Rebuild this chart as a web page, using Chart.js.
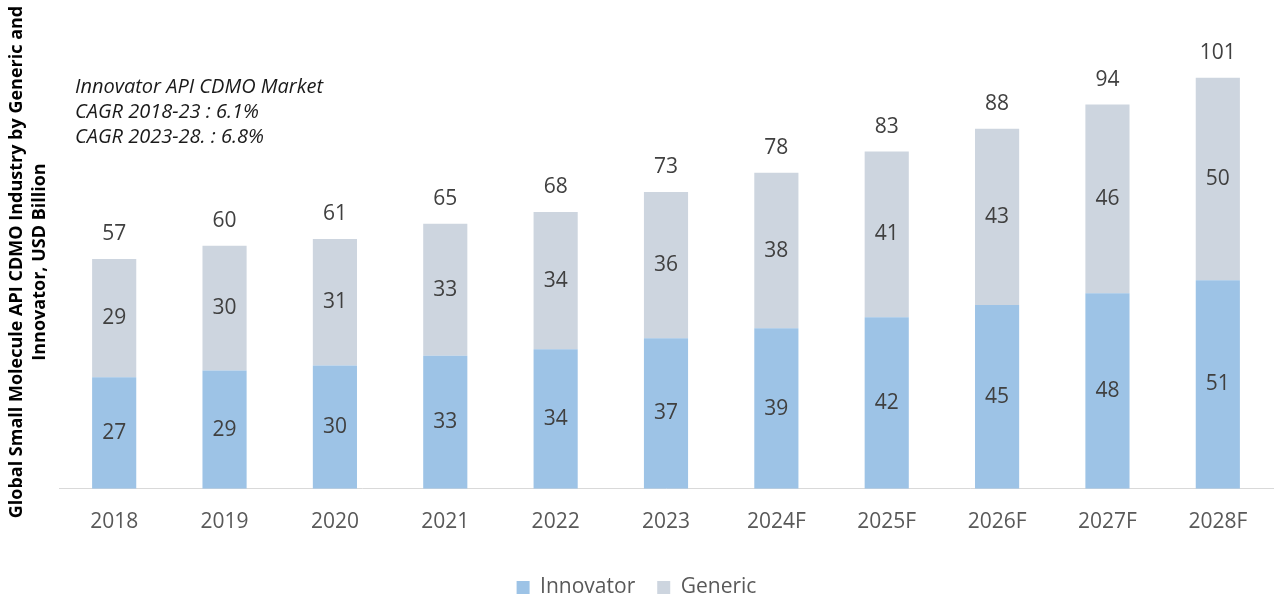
<!DOCTYPE html>
<html>
<head>
<meta charset="utf-8">
<script src="https://cdn.jsdelivr.net/npm/chart.js@4"></script>
<style>
html,body{margin:0;padding:0;background:#fff;}
#wrap{width:1282px;height:596px;position:relative;}
</style>
</head>
<body>
<div id="wrap"><canvas id="c" width="1282" height="596"></canvas></div>
<script>
const categories = ["2018","2019","2020","2021","2022","2023","2024F","2025F","2026F","2027F","2028F"];
const innovator = [27.3, 29.0, 30.2, 32.6, 34.2, 36.9, 39.3, 42.0, 45.0, 47.9, 51.1];
const generic   = [29.0, 30.5, 31.0, 32.3, 33.6, 35.8, 38.1, 40.6, 43.2, 46.2, 49.6];
const innovatorLabels = ["27","29","30","33","34","37","39","42","45","48","51"];
const genericLabels   = ["29","30","31","33","34","36","38","41","43","46","50"];
const totalLabels     = ["57","60","61","65","68","73","78","83","88","94","101"];
const yTitleLines = ["Global Small Molecule API CDMO Industry by Generic and", "Innovator, USD Billion"];
const noteLines = ["Innovator API CDMO Market", "CAGR 2018-23 : 6.1%", "CAGR 2023-28. : 6.8%"];

const FONT = "'Open Sans', sans-serif";

const labelPlugin = {
  id: 'labels',
  afterDatasetsDraw(chart) {
    const ctx = chart.ctx;
    ctx.save();
    ctx.font = "21px " + FONT;
    ctx.fillStyle = "#404040";
    ctx.textAlign = "center";
    ctx.textBaseline = "middle";
    const segLabels = [innovatorLabels, genericLabels];
    chart.data.datasets.forEach((ds, di) => {
      const meta = chart.getDatasetMeta(di);
      meta.data.forEach((bar, i) => {
        const y = (bar.y + bar.base) / 2;
        ctx.fillText(segLabels[di][i], bar.x, y);
      });
    });
    const top = chart.getDatasetMeta(1);
    top.data.forEach((bar, i) => {
      ctx.fillText(totalLabels[i], bar.x, bar.y - 25);
    });
    // axis title
    ctx.fillStyle = "#000";
    ctx.font = "bold 18px " + FONT;
    const cy = 262;
    [17, 40].forEach((x, k) => {
      ctx.save();
      ctx.translate(x, cy);
      ctx.rotate(-Math.PI / 2);
      ctx.fillText(yTitleLines[k], 0, 0);
      ctx.restore();
    });
    // note
    ctx.font = "italic 20px " + FONT;
    ctx.textAlign = "left";
    ctx.fillStyle = "#1a1a1a";
    noteLines.forEach((t, k) => ctx.fillText(t, 75, 87 + k * 25));
    ctx.restore();
  }
};

new Chart(document.getElementById('c'), {
  type: 'bar',
  data: {
    labels: categories,
    datasets: [
      { label: 'Innovator', data: innovator, backgroundColor: '#9DC3E6', barPercentage: 0.4, categoryPercentage: 1.0 },
      { label: 'Generic', data: generic, backgroundColor: '#CDD5DF', barPercentage: 0.4, categoryPercentage: 1.0 }
    ]
  },
  options: {
    responsive: false,
    animation: false,
    layout: { padding: { left: 0, right: 9, top: 7, bottom: -12 } },
    plugins: {
      legend: {
        position: 'bottom',
        labels: { font: { size: 21, family: FONT }, color: '#595959', boxWidth: 13, boxHeight: 13, padding: 22 }
      },
      tooltip: { enabled: false }
    },
    scales: {
      x: {
        stacked: true,
        grid: { display: false },
        border: { color: '#D9D9D9', width: 1 },
        ticks: { font: { size: 21, family: FONT }, color: '#595959', padding: 13 },
        afterFit(scale) { scale.height += 7; }
      },
      y: {
        stacked: true,
        display: true,
        min: 0,
        max: 118,
        grid: { display: false },
        border: { display: false },
        ticks: { display: false },
        afterFit(scale) { scale.width = 59; }
      }
    }
  },
  plugins: [labelPlugin]
});
</script>
</body>
</html>
